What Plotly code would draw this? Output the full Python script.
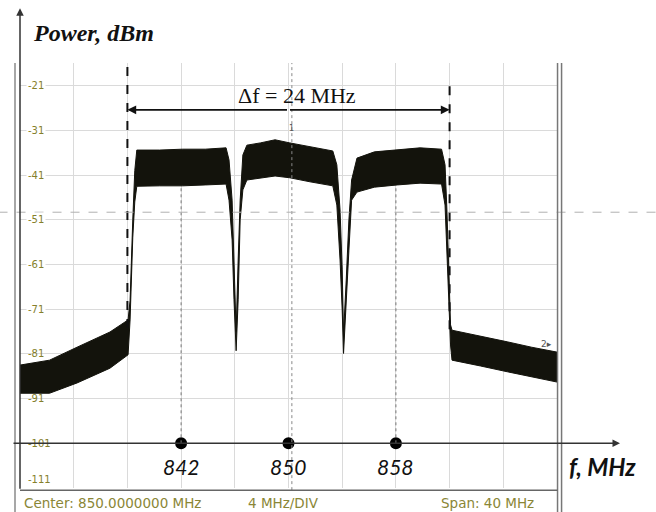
import plotly.graph_objects as go

# ---- data (frequency in MHz, power in dBm) ----
freq = [830.0, 832.2, 834.25, 836.7, 838.05, 838.2, 838.4, 838.55, 838.7,
        840.4, 842.1, 843.8, 845.35, 845.57, 845.8, 845.94, 846.1, 846.25,
        846.4, 846.6, 846.9, 847.9, 849.0, 850.1, 851.6, 853.3, 853.6,
        853.84, 854.0, 854.1, 854.3, 854.5, 854.7, 855.1, 856.4, 858.1,
        859.8, 861.4, 861.66, 861.8, 861.96, 862.07, 862.18, 864.3, 866.3,
        868.1, 870.0]
upper = [-83.5, -82.4, -79.5, -76.1, -73.4, -69.0, -51.0, -40.0, -35.4,
         -35.4, -35.2, -35.2, -34.9, -37.6, -46.6, -60.0, -76.0, -60.0,
         -46.6, -36.5, -34.3, -33.8, -33.1, -33.8, -34.7, -35.6, -38.7,
         -48.8, -62.2, -76.5, -64.5, -51.0, -42.1, -37.2, -35.8, -35.4,
         -34.9, -35.2, -38.7, -48.8, -62.2, -74.5, -75.7, -77.0, -78.3,
         -79.5, -80.6]
lower = [-89.8, -89.8, -87.5, -84.2, -81.2, -73.4, -55.0, -47.0, -43.5,
         -43.4, -43.4, -43.2, -43.0, -46.6, -55.5, -68.9, -80.3, -68.9,
         -51.0, -44.3, -42.1, -41.6, -41.2, -41.6, -42.5, -43.4, -47.7,
         -60.0, -71.2, -80.9, -71.2, -57.8, -46.6, -44.8, -43.7, -43.2,
         -42.8, -43.0, -47.7, -57.8, -71.2, -79.0, -82.4, -83.7, -85.0,
         -86.2, -87.3]

y_ticks = [-21, -31, -41, -51, -61, -71, -81, -91, -101, -111]
y_tick_labels = ["-21", "-31", "-41", "-51", "-61", "-71", "-81", "-91", "-101", "-111"]
channel_freqs = [842, 850, 858]
channel_labels = ["842", "850", "858"]
band_edges = [838, 862]
axis_level = -101
channel_level = -43.8
delta_label = "Δf = 24 MHz"

# ---- figure ----
fig = go.Figure()

fig.add_trace(go.Scatter(
    x=freq + freq[::-1], y=upper + lower[::-1],
    fill="toself", fillcolor="#13130c", mode="lines",
    line=dict(color="#13130c", width=1), hoverinfo="skip", showlegend=False))

fig.add_trace(go.Scatter(
    x=channel_freqs, y=[axis_level] * len(channel_freqs), mode="markers",
    marker=dict(color="#000000", size=12), showlegend=False, cliponaxis=False))

shapes = []
# dotted lines from the dots up to the channels
for f in [channel_freqs[0], channel_freqs[2]]:
    shapes.append(dict(type="line", xref="x", yref="y", x0=f, x1=f,
                       y0=axis_level, y1=channel_level,
                       line=dict(color="#777777", width=1, dash="dot")))
# marker 1 line near centre (full height)
shapes.append(dict(type="line", xref="x", yref="paper", x0=850.25, x1=850.25,
                   y0=-0.005, y1=1, line=dict(color="#888888", width=1, dash="dot")))
# dashed band edges
shapes.append(dict(type="line", xref="x", yref="y", x0=band_edges[0], x1=band_edges[0],
                   y0=-16.8, y1=-76.8, line=dict(color="#111111", width=2, dash="dash")))
shapes.append(dict(type="line", xref="x", yref="y", x0=band_edges[1], x1=band_edges[1],
                   y0=-21.1, y1=-76.8, line=dict(color="#111111", width=2, dash="dash")))
# long horizontal dashed reference line
shapes.append(dict(type="line", xref="paper", yref="y", x0=-0.04, x1=1.19,
                   y0=-49.3, y1=-49.3, line=dict(color="#b0b0b0", width=1, dash="dash")))
# instrument frame lines
shapes.append(dict(type="line", xref="paper", yref="paper", x0=-0.0093, x1=-0.0093,
                   y0=1.0, y1=-0.06, line=dict(color="#8a8a8a", width=1.5)))
shapes.append(dict(type="line", xref="paper", yref="paper", x0=1.001, x1=1.001,
                   y0=1.0, y1=-0.06, line=dict(color="#777777", width=1.5)))
shapes.append(dict(type="line", xref="paper", yref="paper", x0=1.0085, x1=1.0085,
                   y0=1.0, y1=-0.06, line=dict(color="#777777", width=1.5)))
shapes.append(dict(type="line", xref="paper", yref="paper", x0=0, x1=1.001,
                   y0=-0.005, y1=-0.005, line=dict(color="#666666", width=1.5)))

annotations = []
# y tick labels (instrument style)
for v, t in zip(y_ticks, y_tick_labels):
    yy = v if v != -111 else -109.2
    annotations.append(dict(xref="paper", yref="y", x=0.012, y=yy, text=t,
                            showarrow=False, xanchor="left", yanchor="middle",
                            font=dict(family="DejaVu Sans", size=10, color="#857f2c"),
                            bgcolor=None if v in (-81, -91) else "#ffffff"))
# channel frequency labels
for f, t in zip(channel_freqs, channel_labels):
    annotations.append(dict(xref="x", yref="y", x=f, y=-106.3, text=t, showarrow=False,
                            font=dict(family="Lato, Liberation Sans", size=21,
                                      color="#111111", style="italic")))
# delta f arrows and label
for edge in band_edges:
    annotations.append(dict(xref="x", yref="y", axref="x", ayref="y",
                            x=edge, y=-26.4, ax=850, ay=-26.4, text="",
                            showarrow=True, arrowhead=2, arrowsize=1.1,
                            arrowwidth=1.6, arrowcolor="#111111"))
annotations.append(dict(xref="x", yref="y", x=850.6, y=-23.1, text=delta_label,
                        showarrow=False,
                        font=dict(family="Liberation Serif", size=22, color="#111111")))
# axis arrows
annotations.append(dict(xref="paper", yref="paper", x=0, y=1.129, ax=0, ay=482,
                        text="", showarrow=True, arrowhead=2, arrowsize=1,
                        arrowwidth=1.5, arrowcolor="#333333"))
annotations.append(dict(xref="paper", yref="y", x=1.1173, y=axis_level, ax=-608, ay=0,
                        text="", showarrow=True, arrowhead=2, arrowsize=1,
                        arrowwidth=1.5, arrowcolor="#333333"))
# axis titles
annotations.append(dict(xref="paper", yref="paper", x=0.02, y=1.0706, text="Power, dBm",
                        showarrow=False, xanchor="left", yanchor="middle",
                        font=dict(family="Liberation Serif", size=24, color="#111111",
                                  weight="bold", style="italic")))
annotations.append(dict(xref="paper", yref="y", x=1.019, y=-106.3, text="f, MHz",
                        showarrow=False, xanchor="left", yanchor="middle",
                        font=dict(family="Lato, Liberation Sans", size=24, color="#111111",
                                  weight="bold", style="italic")))
# marker labels
annotations.append(dict(xref="x", yref="y", x=850.25, y=-30.5, text="1", showarrow=False,
                        font=dict(family="DejaVu Sans", size=8, color="#555555")))
annotations.append(dict(xref="paper", yref="y", x=0.995, y=-78.8, text="2▸", showarrow=False,
                        xanchor="right", font=dict(family="DejaVu Sans", size=9, color="#555555")))
# instrument footer
footer_font = dict(family="DejaVu Sans", size=13.5, color="#8a8636")
annotations.append(dict(xref="paper", yref="paper", x=0.004, y=-0.036, text="Center: 850.0000000 MHz",
                        showarrow=False, xanchor="left", yanchor="middle", font=footer_font))
annotations.append(dict(xref="paper", yref="paper", x=0.4916, y=-0.036, text="4 MHz/DIV",
                        showarrow=False, xanchor="center", yanchor="middle", font=footer_font))
annotations.append(dict(xref="paper", yref="paper", x=0.8715, y=-0.036, text="Span: 40 MHz",
                        showarrow=False, xanchor="center", yanchor="middle", font=footer_font))

fig.update_layout(
    width=656, height=512,
    margin=dict(l=20, r=99, t=63, b=24),
    paper_bgcolor="#ffffff", plot_bgcolor="#ffffff",
    shapes=shapes, annotations=annotations, showlegend=False,
    xaxis=dict(range=[830, 870], tick0=830, dtick=4, showgrid=True, gridcolor="#dadada",
               gridwidth=1, showticklabels=False, zeroline=False, showline=False, ticks=""),
    yaxis=dict(range=[-111, -15.92], tickvals=y_ticks, showgrid=True, gridcolor="#dadada",
               gridwidth=1, showticklabels=False, zeroline=False, showline=False, ticks=""),
)

fig.write_html("out.html", config={"displayModeBar": False},
               post_script="document.body.style.margin='0';document.body.style.overflow='hidden';")
